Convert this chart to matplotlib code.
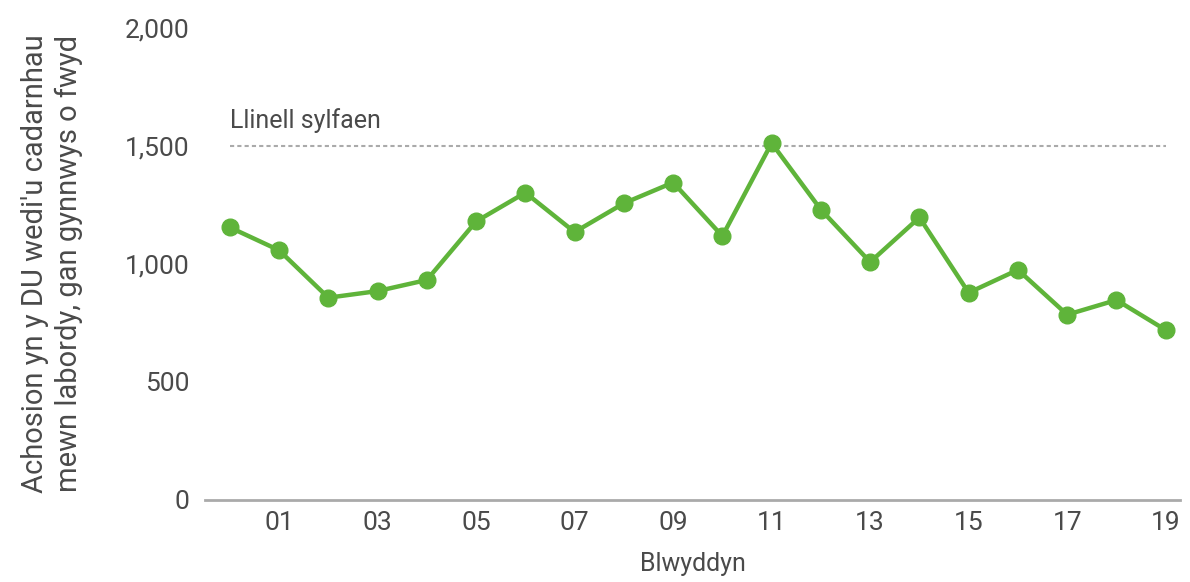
import numpy as np
import matplotlib.pyplot as plt

# Data
years = list(range(0, 20))
cases = [1155, 1058, 857, 885, 932, 1180, 1302, 1135, 1257, 1345,
         1118, 1512, 1230, 1008, 1197, 878, 975, 785, 847, 720]
tick_years = [1, 3, 5, 7, 9, 11, 13, 15, 17, 19]
tick_labels = ['01', '03', '05', '07', '09', '11', '13', '15', '17', '19']
y_ticks = [0, 500, 1000, 1500, 2000]
baseline = 1500

green = '#5fb43a'
grey_txt = '#4a4a4a'

plt.rcParams['font.family'] = ['Roboto', 'DejaVu Sans']

fig = plt.figure(figsize=(11.9, 5.82), dpi=100)
ax = fig.add_axes([0.172, 0.141, 0.82, 0.811])

ax.plot(years, cases, color=green, lw=3.2, marker='o', ms=12, zorder=3)
ax.plot([years[0], years[-1]], [baseline, baseline], color='#aaaaaa',
        lw=1.5, ls=(0, (2, 1.5)), zorder=2)
ax.text(years[0], baseline + 55, 'Llinell sylfaen', fontsize=18,
        color=grey_txt, ha='left', va='bottom')

ax.set_xlim(-0.51, 19.3)
ax.set_ylim(0, 2000)
ax.set_xticks(tick_years)
ax.set_xticklabels(tick_labels)
ax.set_yticks(y_ticks)
ax.set_yticklabels(['0', '500', '1,000', '1,500', '2,000'])
ax.tick_params(axis='both', length=0, labelsize=19, colors=grey_txt)
ax.tick_params(axis='x', pad=8)
ax.tick_params(axis='y', pad=11)

for s in ['top', 'right', 'left']:
    ax.spines[s].set_visible(False)
ax.spines['bottom'].set_color('#aaaaaa')
ax.spines['bottom'].set_linewidth(2)

ax.set_xlabel('Blwyddyn', fontsize=18, color=grey_txt, labelpad=12)
ax.set_ylabel("Achosion yn y DU wedi'u cadarnhau\nmewn labordy, gan gynnwys o fwyd",
              fontsize=21, color=grey_txt, labelpad=30, linespacing=1.25)

fig.savefig('out.png', dpi=100)
